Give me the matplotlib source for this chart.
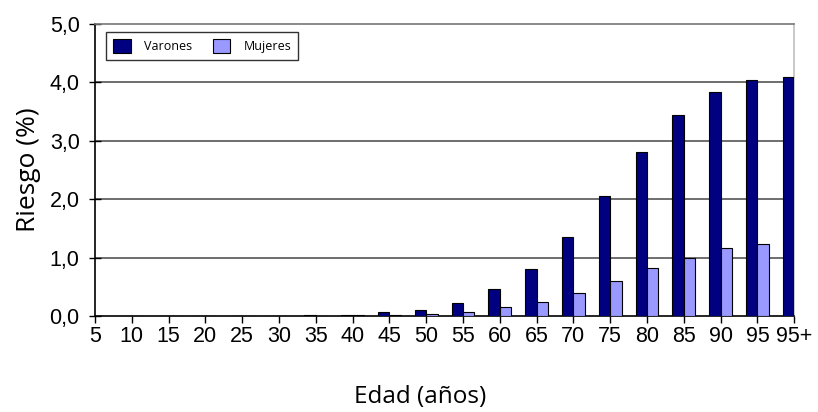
import numpy as np
import matplotlib
matplotlib.use("Agg")
import matplotlib.pyplot as plt

edades = ["5", "10", "15", "20", "25", "30", "35", "40", "45", "50",
          "55", "60", "65", "70", "75", "80", "85", "90", "95", "95+"]
varones = [0, 0, 0, 0, 0, 0, 0.02, 0.02, 0.06, 0.11,
           0.23, 0.46, 0.80, 1.35, 2.05, 2.81, 3.44, 3.84, 4.04, 4.09]
mujeres = [0, 0, 0, 0, 0, 0, 0.0, 0.02, 0.02, 0.04,
           0.07, 0.15, 0.24, 0.39, 0.60, 0.82, 1.00, 1.16, 1.23, 0]
yticks = [0, 1, 2, 3, 4, 5]

x = np.arange(len(edades))
w = 0.31

fig = plt.figure(figsize=(8.18, 4.12), dpi=100)
ax = fig.add_axes([0.116, 0.233, 0.855, 0.709])

ax.bar(x - w / 2, varones, w, color="#000080", edgecolor="black", linewidth=0.8,
       label="Varones", zorder=3)
ax.bar(x + w / 2, mujeres, w, color="#9999ff", edgecolor="black", linewidth=0.8,
       label="Mujeres", zorder=3)

ax.set_xlim(0, len(edades) - 1)
ax.set_ylim(0, 5)
ax.set_yticks(yticks)
ax.set_yticklabels([f"{v:.1f}".replace(".", ",") for v in yticks],
                   fontsize=15.5, family="Liberation Sans")
ax.set_xticks(x)
ax.set_xticklabels(edades, fontsize=15.5, family="Liberation Sans")
ax.tick_params(axis="y", direction="inout", length=8, width=1, pad=7)
ax.tick_params(axis="x", direction="out", length=5, width=1, pad=2)

for v in yticks[1:-1]:
    ax.axhline(v, color="#555555", linewidth=1.2, zorder=1)
ax.spines["top"].set_color("#777777")
ax.spines["top"].set_linewidth(1.2)
ax.spines["right"].set_color("#c0c0c0")
ax.spines["right"].set_linewidth(1.2)
ax.spines["left"].set_linewidth(1.2)
ax.spines["bottom"].set_linewidth(1.2)

ax.set_ylabel("Riesgo (%)", fontsize=19, family="Open Sans", labelpad=6)
fig.text(0.513, 0.036, "Edad (años)", fontsize=17.5, family="Open Sans",
         ha="center", va="center")

leg = ax.legend(loc="upper left", bbox_to_anchor=(0.011, 0.985), ncol=2,
                prop={"family": "Open Sans", "size": 9},
                frameon=True, fancybox=False, edgecolor="black",
                handlelength=1.4, handleheight=1.4, columnspacing=1.6,
                borderpad=0.55, handletextpad=1.1, borderaxespad=0.3)
leg.get_frame().set_linewidth(1.0)

fig.savefig("out.png", dpi=100)
